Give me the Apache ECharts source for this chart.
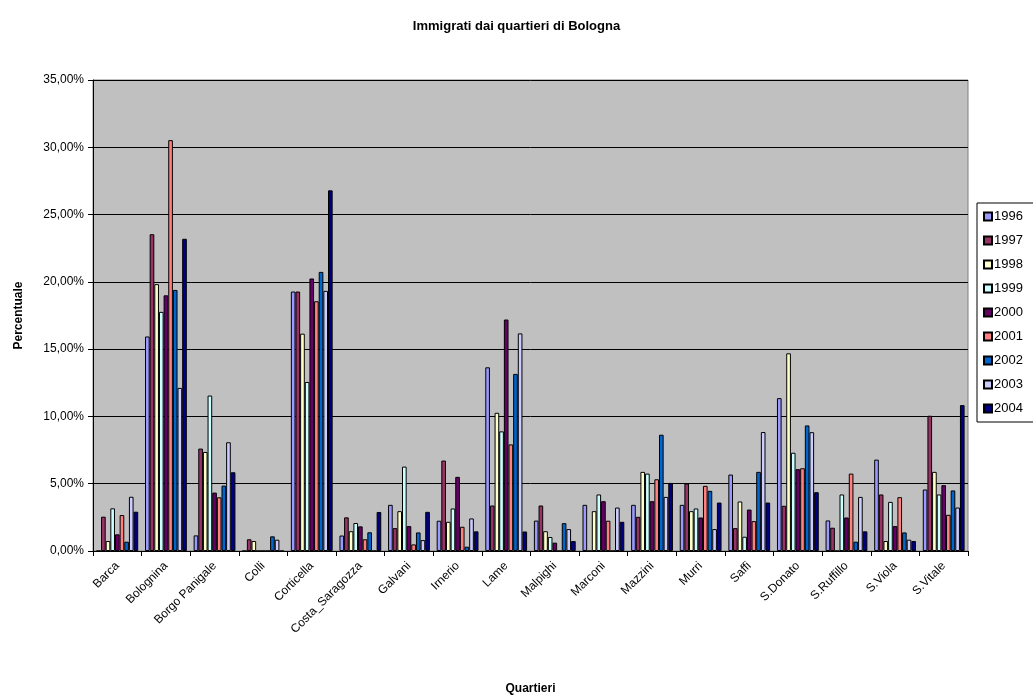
<!DOCTYPE html>
<html><head><meta charset="utf-8">
<script src="https://cdn.jsdelivr.net/npm/echarts@6/dist/echarts.min.js"></script>
<style>html,body{margin:0;padding:0;background:#fff}#c{width:1033px;height:697px}</style>
</head><body><div id="c"></div>
<script>
const categories = ['Barca','Bolognina','Borgo Panigale','Colli','Corticella','Costa_Saragozza','Galvani','Irnerio','Lame','Malpighi','Marconi','Mazzini','Murri','Saffi','S.Donato','S.Ruffillo','S.Viola','S.Vitale'];
const years = ['1996','1997','1998','1999','2000','2001','2002','2003','2004'];
const colors = ['#9999FF','#993366','#FFFFCC','#CCFFFF','#660066','#FF8080','#0066CC','#CCCCFF','#000080'];
const y1996 = [0,15.94,1.16,0,19.28,1.15,3.43,2.25,13.65,2.26,3.43,3.43,3.43,5.68,11.36,2.27,6.79,4.57];
const y1997 = [2.55,23.54,7.61,0.87,19.28,2.5,1.7,6.72,3.38,3.38,0,2.54,5.01,1.7,3.36,1.73,4.2,10.05];
const y1998 = [0.74,19.83,7.36,0.74,16.15,1.47,2.96,2.17,10.27,1.47,2.96,5.88,2.96,3.68,14.69,0,0.74,5.88];
const y1999 = [3.17,17.77,11.55,0,12.56,2.08,6.27,3.16,8.89,1.04,4.2,5.75,3.16,1.06,7.3,4.2,3.65,4.2];
const y2000 = [1.24,19.0,4.34,0,20.25,1.83,1.85,5.51,17.2,0.62,3.7,3.7,2.49,3.08,6.08,2.49,1.85,4.89];
const y2001 = [2.67,30.53,3.99,0,18.56,0.87,0.49,1.8,7.92,0,2.25,5.33,4.84,2.22,6.15,5.75,4.0,2.69];
const y2002 = [0.69,19.4,4.86,1.09,20.74,1.39,1.38,0.32,13.16,2.07,0,8.64,4.47,5.88,9.33,0.69,1.38,4.5];
const y2003 = [4.03,12.12,8.08,0.84,19.33,0,0.81,2.42,16.17,1.63,3.23,4.02,1.63,8.84,8.83,4.02,0.84,3.23];
const y2004 = [2.92,23.2,5.85,0,26.8,2.9,2.91,1.46,1.45,0.74,2.17,5.06,3.6,3.6,4.37,1.46,0.74,10.84];
const yTicks = [0,5,10,15,20,25,30,35];
const seriesData = [y1996,y1997,y1998,y1999,y2000,y2001,y2002,y2003,y2004];

const chart = echarts.init(document.getElementById('c'), null, {renderer:'canvas'});
const F = 'Liberation Sans, Arial, sans-serif';
chart.setOption({
  animation:false,
  backgroundColor:'#fff',
  title:{text:'Immigrati dai quartieri di Bologna',left:'center',top:15,
    textStyle:{fontFamily:F,fontSize:13,fontWeight:'bold',color:'#000'}},
  legend:{orient:'vertical',left:977,top:203,data:years,
    itemWidth:8,itemHeight:8,itemGap:11,icon:'rect',
    backgroundColor:'#fff',borderColor:'#000',borderWidth:1,padding:[7,20,7,6],
    textStyle:{fontFamily:F,fontSize:13,color:'#000',padding:[0,0,0,-3]}},
  grid:{left:93,right:65,top:80,bottom:146,containLabel:false,outerBoundsMode:'none',
    show:true,backgroundColor:'#C0C0C0',borderColor:'#808080',borderWidth:1},
  xAxis:{type:'category',data:categories,name:'Quartieri',nameLocation:'middle',nameGap:132,
    nameTextStyle:{fontFamily:F,fontSize:12,fontWeight:'bold',color:'#000'},
    axisLine:{lineStyle:{color:'#000'}},axisTick:{show:true,alignWithLabel:false,length:5,lineStyle:{color:'#000'}},
    axisLabel:{interval:0,rotate:45,fontFamily:F,fontSize:12,color:'#000',margin:13}},
  yAxis:{type:'value',min:0,max:35,interval:5,name:'Percentuale',nameLocation:'middle',nameGap:68,
    nameTextStyle:{fontFamily:F,fontSize:12,fontWeight:'bold',color:'#000'},
    axisLine:{show:true,lineStyle:{color:'#000'}},axisTick:{show:true,length:5,lineStyle:{color:'#000'}},
    splitLine:{lineStyle:{color:'#000',width:1}},
    axisLabel:{fontFamily:F,fontSize:12,color:'#000',margin:9,
      formatter:v=>v.toFixed(2).replace('.',',')+'%'}},
  series:years.map((y,i)=>({name:y,type:'bar',data:seriesData[i],barGap:'0%',barCategoryGap:'14%',
    itemStyle:{color:colors[i],borderColor:'#000',borderWidth:1}}))
});
</script></body></html>
